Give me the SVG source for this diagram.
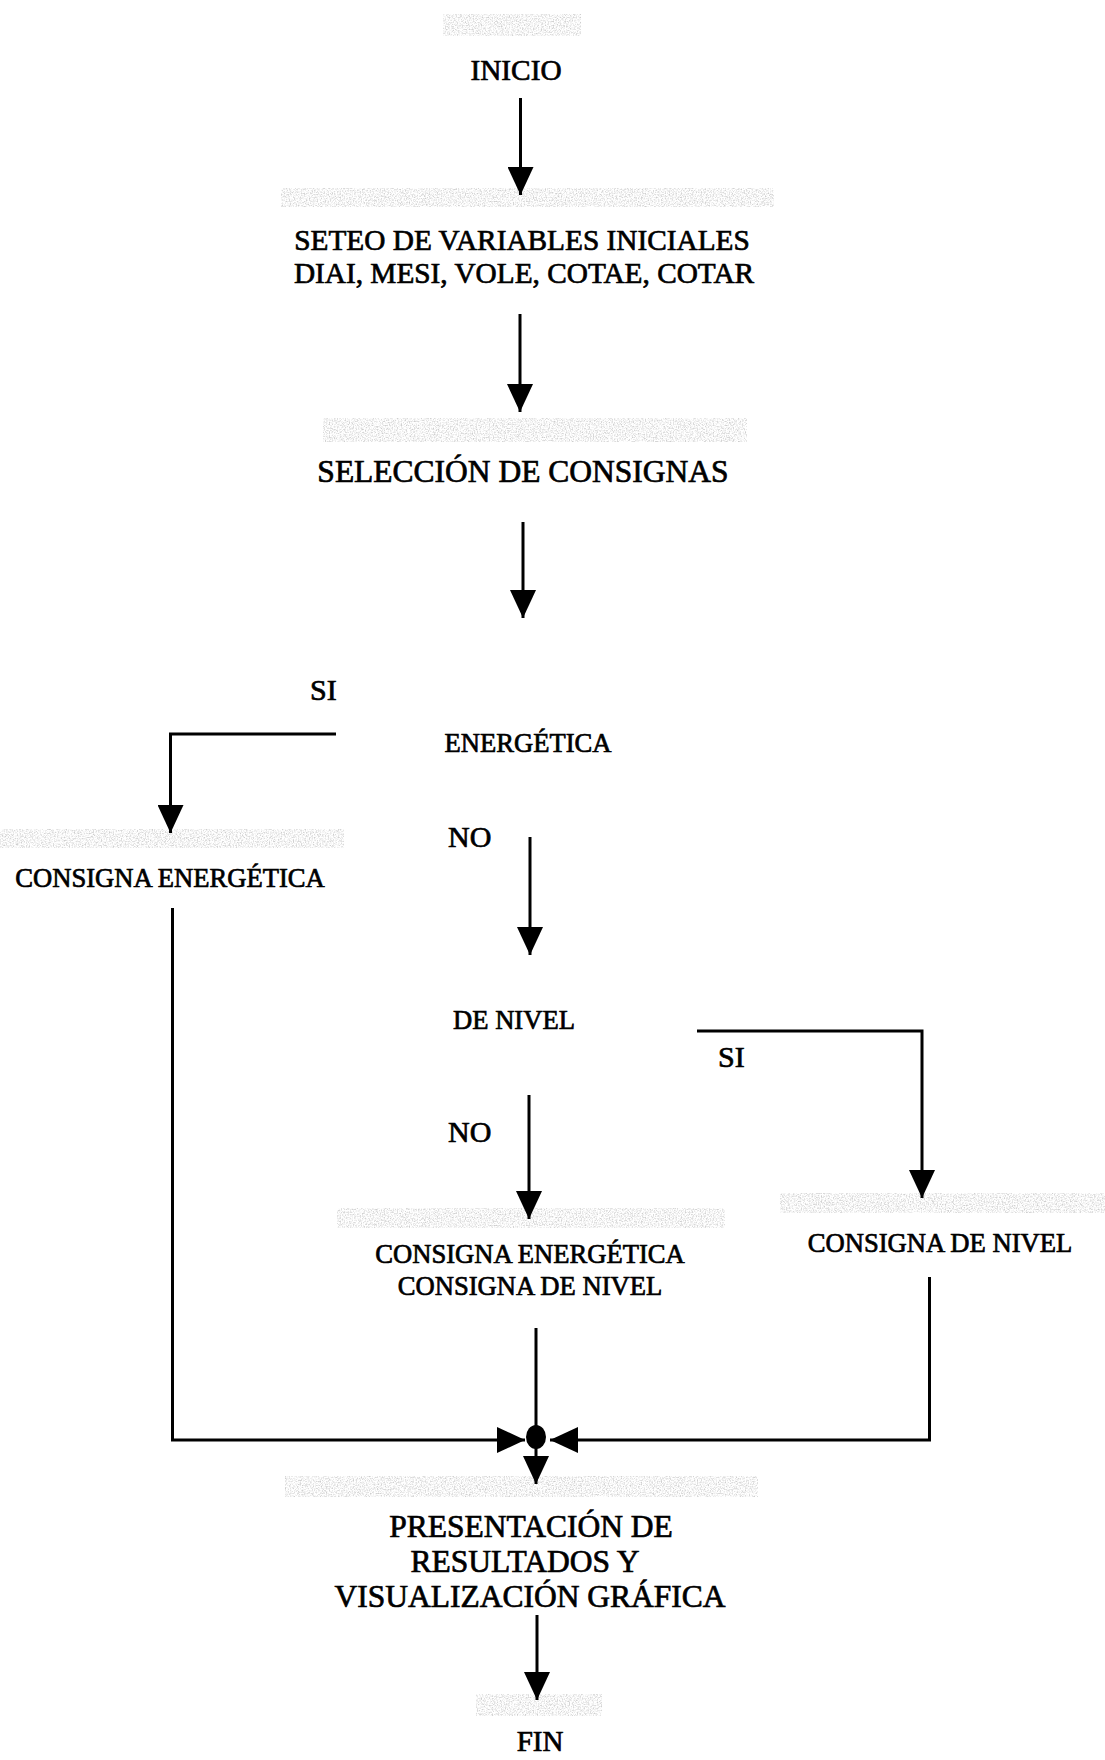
<svg xmlns="http://www.w3.org/2000/svg" width="1105" height="1760" viewBox="0 0 1105 1760">
<style>
  text { font-family: "Liberation Serif", "Times New Roman", serif; fill: #000; stroke: #000; stroke-width: 0.7; }
  .big { font-size: 31.5px; }
  .mid { font-size: 29.3px; }
  .sm { font-size: 26.6px; }
  .lab { font-size: 30px; }
  .c { text-anchor: middle; }
  .ln { fill: none; stroke: #000; stroke-width: 3; }
  .band { fill: #000; filter: url(#speck); }
</style>
<defs>
  <marker id="ah" markerUnits="userSpaceOnUse" markerWidth="28" markerHeight="26" refX="28" refY="13" orient="auto">
    <path d="M0,0 L28,13 L0,26 z" fill="#000"/>
  </marker>
  <filter id="speck" x="0" y="0" width="100%" height="100%">
    <feTurbulence type="fractalNoise" baseFrequency="0.75" numOctaves="2" seed="4" result="n"/>
    <feColorMatrix in="n" type="matrix" values="0 0 0 0 0.62  0 0 0 0 0.62  0 0 0 0 0.62  2.6 0 0 0 -1.1"/>
    <feComposite in2="SourceGraphic" operator="in"/>
  </filter>
</defs>
<rect width="1105" height="1760" fill="#fff"/>

<g id="bands">
  <rect class="band" x="443" y="14" width="138" height="22"/>
  <rect class="band" x="281" y="188" width="493" height="19"/>
  <rect class="band" x="323" y="418" width="424" height="24"/>
  <rect class="band" x="0" y="829" width="344" height="19"/>
  <rect class="band" x="337" y="1208" width="388" height="20"/>
  <rect class="band" x="780" y="1193" width="325" height="20"/>
  <rect class="band" x="285" y="1476" width="473" height="21"/>
  <rect class="band" x="476" y="1694" width="126" height="22"/>
</g>

<g id="connectors">
  <line class="ln" x1="520.5" y1="98" x2="520.5" y2="195" marker-end="url(#ah)"/>
  <line class="ln" x1="520" y1="314" x2="520" y2="412" marker-end="url(#ah)"/>
  <line class="ln" x1="523" y1="522" x2="523" y2="618" marker-end="url(#ah)"/>
  <polyline class="ln" points="336,734 170.5,734 170.5,833" marker-end="url(#ah)"/>
  <line class="ln" x1="530" y1="837" x2="530" y2="955" marker-end="url(#ah)"/>
  <polyline class="ln" points="697,1031 922,1031 922,1198" marker-end="url(#ah)"/>
  <line class="ln" x1="529" y1="1095" x2="529" y2="1219" marker-end="url(#ah)"/>
  <polyline class="ln" points="172.5,908 172.5,1440 525,1440" marker-end="url(#ah)"/>
  <polyline class="ln" points="929.5,1277 929.5,1440 550,1440" marker-end="url(#ah)"/>
  <line class="ln" x1="536" y1="1328" x2="536" y2="1430"/>
  <ellipse cx="536" cy="1437" rx="10" ry="12" fill="#000"/>
  <line class="ln" x1="536" y1="1447" x2="536" y2="1484" marker-end="url(#ah)"/>
  <line class="ln" x1="537" y1="1615" x2="537" y2="1700" marker-end="url(#ah)"/>
</g>

<g id="inicio"><text class="mid c" x="516" y="80">INICIO</text></g>
<g id="seteo">
  <text class="mid c" x="522" y="250">SETEO DE VARIABLES INICIALES</text>
  <text class="mid c" x="524" y="283">DIAI, MESI, VOLE, COTAE, COTAR</text>
</g>
<g id="seleccion"><text class="big c" x="523" y="482">SELECCIÓN DE CONSIGNAS</text></g>
<g id="dec-energetica"><text class="sm c" x="528" y="752">ENERGÉTICA</text></g>
<g id="lab-si1"><text class="lab" x="310" y="700">SI</text></g>
<g id="lab-no1"><text class="lab" x="448" y="847">NO</text></g>
<g id="consigna-energetica"><text class="sm c" x="170" y="887">CONSIGNA ENERGÉTICA</text></g>
<g id="dec-nivel"><text class="sm c" x="514" y="1029">DE NIVEL</text></g>
<g id="lab-si2"><text class="lab" x="718" y="1067">SI</text></g>
<g id="lab-no2"><text class="lab" x="448" y="1142">NO</text></g>
<g id="consigna-ambas">
  <text class="sm c" x="530" y="1263">CONSIGNA ENERGÉTICA</text>
  <text class="sm c" x="530" y="1295">CONSIGNA DE NIVEL</text>
</g>
<g id="consigna-nivel"><text class="sm c" x="940" y="1252">CONSIGNA DE NIVEL</text></g>
<g id="presentacion">
  <text class="big c" x="531" y="1537">PRESENTACIÓN DE</text>
  <text class="big c" x="525" y="1572">RESULTADOS Y</text>
  <text class="big c" x="530" y="1607">VISUALIZACIÓN GRÁFICA</text>
</g>
<g id="fin"><text class="c" style="font-size:29px" x="540" y="1751">FIN</text></g>
</svg>
